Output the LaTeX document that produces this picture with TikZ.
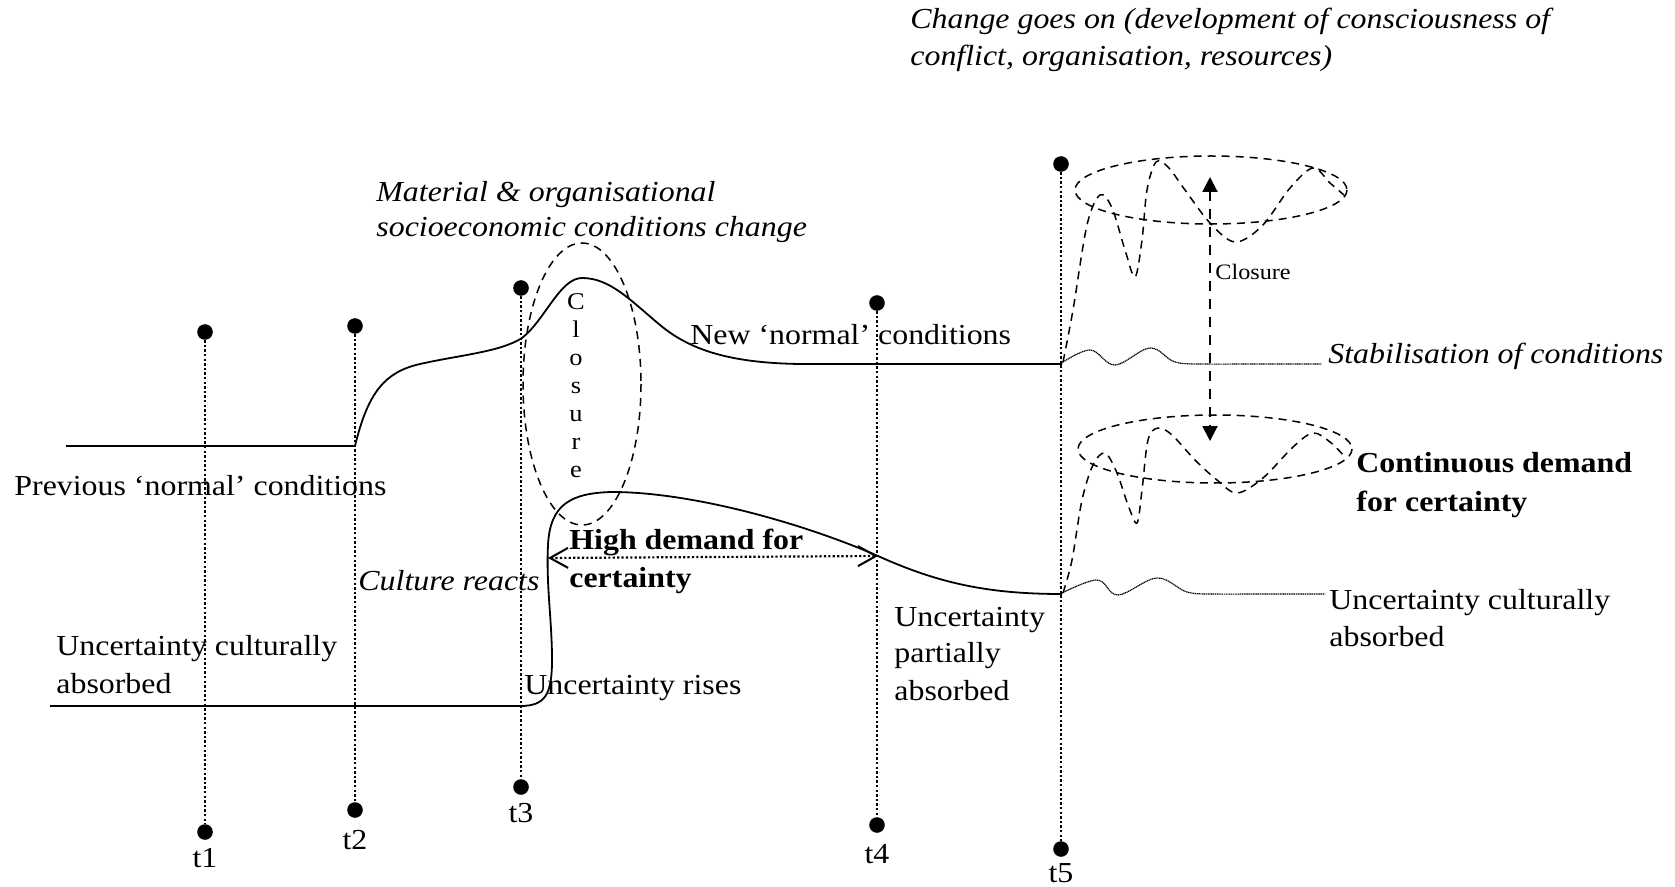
\documentclass[tikz,border=0pt]{standalone}
\usepackage{fontspec}
\setmainfont{Liberation Serif}[FakeStretch=1.1]
\usetikzlibrary{arrows.meta}
\begin{document}
\begin{tikzpicture}[x=0.5pt,y=-0.5pt,
  txt/.style={font=\fontsize{14.5}{17}\selectfont, inner sep=0, anchor=base west},
  ittxt/.style={txt, font=\fontsize{14.5}{17}\selectfont\itshape},
  bftxt/.style={txt, font=\fontsize{14.5}{17}\selectfont\bfseries},
  smalltxt/.style={font=\fontsize{11}{13}\selectfont, inner sep=0, anchor=base west},
  tlabel/.style={font=\fontsize{14.5}{17}\selectfont, inner sep=0, anchor=base},
  dotn/.style={circle, fill=black, inner sep=0, minimum size=7.8pt},
  vdot/.style={line width=1.35pt, dash pattern=on 1.2pt off 1.1pt},
  curve/.style={line width=0.9pt},
  dsh/.style={line width=0.75pt, dash pattern=on 4pt off 3pt},
  wig/.style={line width=0.6pt, dash pattern=on 0.6pt off 0.3pt},
  ]
\useasboundingbox (0,0) rectangle (1675,887);

% time markers
\node[dotn] (t1a) at (205,332) {};
\node[dotn] (t1b) at (205,832) {};
\node[dotn] (t2a) at (355,326) {};
\node[dotn] (t2b) at (355,810) {};
\node[dotn] (t3a) at (521,288) {};
\node[dotn] (t3b) at (521,787) {};
\node[dotn] (t4a) at (877,303) {};
\node[dotn] (t4b) at (877,825) {};
\node[dotn] (t5a) at (1061,164) {};
\node[dotn] (t5b) at (1061,849) {};
\draw[vdot] (t1a) -- (t1b);
\draw[vdot] (t2a) -- (t2b);
\draw[vdot] (t3a) -- (t3b);
\draw[vdot] (t4a) -- (t4b);
\draw[vdot] (t5a) -- (t5b);
\node[tlabel] (l1) at (205,867) {t1};
\node[tlabel] (l2) at (355,849) {t2};
\node[tlabel] (l3) at (521,822) {t3};
\node[tlabel] (l4) at (877,863) {t4};
\node[tlabel] (l5) at (1061,882) {t5};

% conditions curve
\draw[curve] (66,446) -- (355,446)
  .. controls (368,392) and (385,372) .. (420,364)
  .. controls (460,355) and (500,352) .. (522,338)
  .. controls (545,320) and (560,278) .. (582,278)
  .. controls (610,278) and (630,300) .. (660,325)
  .. controls (690,350) and (730,363) .. (800,364)
  -- (1062,364);
\draw[wig] plot[smooth, tension=0.6] coordinates {(1060,364) (1090,350) (1115,365) (1150,348) (1175,362) (1205,364) (1240,364)} -- (1322,364);

% uncertainty curve
\draw[curve] (50,706) -- (520,706)
  .. controls (545,706) and (552,695) .. (552,660)
  .. controls (552,620) and (546,585) .. (548,545)
  .. controls (550,505) and (570,493) .. (612,492)
  .. controls (690,492) and (800,522) .. (878,556)
  .. controls (940,584) and (990,594) .. (1062,594);
\draw[wig] plot[smooth, tension=0.6] coordinates {(1060,594) (1097,580) (1118,595) (1157,578) (1187,592) (1215,594) (1250,594)} -- (1325,594);

% closure ellipse (t3)
\draw[dsh] (582,384) ellipse [x radius=59, y radius=141];
\node[font=\fontsize{12}{14}\selectfont, align=center, inner sep=0] (clv) at (576,386) {C\\l\\o\\s\\u\\r\\e};

% high demand arrow
\coordinate (hdl) at (548,558);
\coordinate (hdr) at (878,556);
\draw[line width=1.1pt, dash pattern=on 1.1pt off 1.1pt,
  {Straight Barb[length=9pt,width=10pt,line width=1pt]}-{Straight Barb[length=9pt,width=10pt,line width=1pt]}] (hdl) -- (hdr);

% right side ellipses and dashed waves
\draw[dsh] (1211,190) ellipse [x radius=136, y radius=34];
\draw[dsh] (1215,449) ellipse [x radius=137, y radius=34];
\draw[dsh] plot[smooth, tension=0.55] coordinates {(1063,362) (1073,310) (1087,225) (1100,195) (1112,208) (1125,250) (1135,277) (1142,240) (1147,190) (1156,162) (1168,167) (1185,190) (1210,223) (1235,242) (1262,226) (1290,188) (1313,168) (1330,183) (1344,195)};
\draw[dsh] plot[smooth, tension=0.55] coordinates {(1063,593) (1072,560) (1082,500) (1093,465) (1105,453) (1117,473) (1128,505) (1137,523) (1142,490) (1148,440) (1158,428) (1172,435) (1195,460) (1217,480) (1237,493) (1263,478) (1293,447) (1313,433) (1330,442) (1345,457)};

% closure double arrow
\coordinate (cla) at (1210,177);
\coordinate (clb) at (1210,441);
\draw[line width=1pt, dash pattern=on 5pt off 4pt,
  {Triangle[length=7.5pt,width=7.5pt]}-{Triangle[length=7.5pt,width=7.5pt]}] (cla) -- (clb);
\node[smalltxt] (clos) at (1215,280) {Closure};

% texts
\node[ittxt] (chg1) at (910,29) {Change goes on (development of consciousness of};
\node[ittxt] (chg2) at (910,66) {conflict, organisation, resources)};
\node[ittxt] (mat1) at (376,202) {Material \& organisational};
\node[ittxt] (mat2) at (376,237) {socioeconomic conditions change};
\node[txt] (newn) at (690,345) {New ‘normal’ conditions};
\node[ittxt] (stab) at (1328,364) {Stabilisation of conditions};
\node[bftxt] (cont1) at (1356,473) {Continuous demand};
\node[bftxt] (cont2) at (1356,511) {for certainty};
\node[txt] (prev) at (14,495) {Previous ‘normal’ conditions};
\node[bftxt] (high1) at (569,549) {High demand for};
\node[bftxt] (high2) at (569,587) {certainty};
\node[ittxt] (cult) at (358,590) {Culture reacts};
\node[txt] (up1) at (894,626) {Uncertainty};
\node[txt] (up2) at (894,662) {partially};
\node[txt] (up3) at (894,700) {absorbed};
\node[txt] (ur1) at (1329,609) {Uncertainty culturally};
\node[txt] (ur2) at (1329,646) {absorbed};
\node[txt] (ul1) at (56,655) {Uncertainty culturally};
\node[txt] (ul2) at (56,693) {absorbed};
\node[txt] (rise) at (524,694) {Uncertainty rises};
\end{tikzpicture}
\end{document}
